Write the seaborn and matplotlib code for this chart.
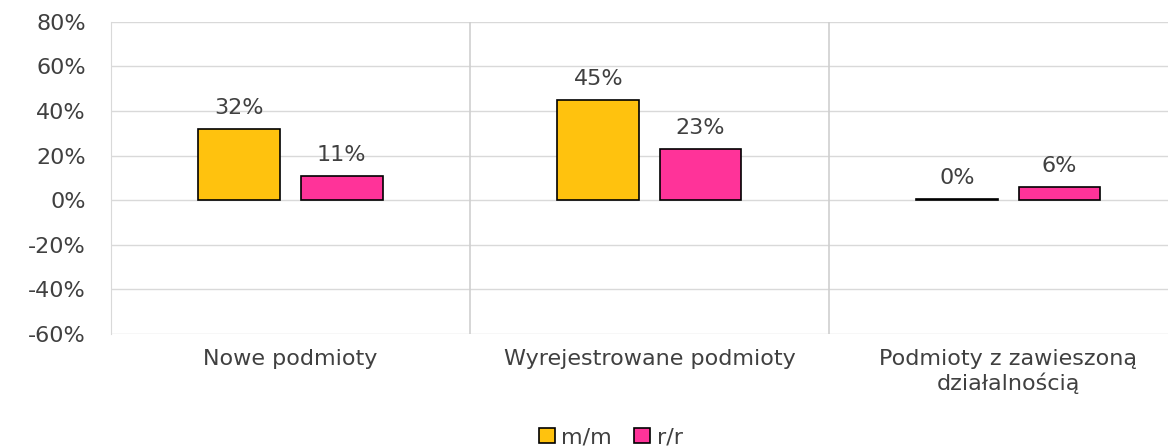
import seaborn as sns
import matplotlib.pyplot as plt
import pandas as pd

# data
categories = ['Nowe podmioty', 'Wyrejestrowane podmioty', 'Podmioty z zawieszoną\ndziałalnością']
mm_values = [32, 45, 0.4]
rr_values = [11, 23, 6]
series = ['m/m', 'r/r']
yticks = [-60, -40, -20, 0, 20, 40, 60, 80]

df = pd.DataFrame({
    'kategoria': categories * 2,
    'wartosc': mm_values + rr_values,
    'seria': [series[0]] * 3 + [series[1]] * 3,
})

sns.set_style('white')
plt.rcParams['font.family'] = ['DejaVu Sans']
text_color = '#404040'

fig = plt.figure(figsize=(11.68, 4.46), dpi=100)
ax = fig.add_axes([0.095, 0.251, 0.922, 0.700])

sns.barplot(data=df, x='kategoria', y='wartosc', hue='seria',
            palette=['#FFC20E', '#FF3399'], saturation=1, width=0.57, gap=0.2,
            edgecolor='black', linewidth=1.2, ax=ax, zorder=3)

# value labels
for cont in ax.containers:
    ax.bar_label(cont, labels=[f'{v:.0f}%' for v in cont.datavalues],
                 padding=8, fontsize=16, color=text_color)

ax.set_ylim(-60, 80)
ax.set_yticks(yticks)
ax.set_yticklabels([f'{t}%' for t in yticks], fontsize=16, color=text_color)
ax.set_xlim(-0.5, 2.5)
ax.tick_params(axis='x', labelsize=16, colors=text_color, pad=11, length=0)
ax.tick_params(axis='y', length=0, pad=18)
ax.set_xlabel('')
ax.set_ylabel('')

# gridlines and category separators
for t in yticks:
    ax.axhline(t, color='#d9d9d9', linewidth=1, zorder=1)
for x in [0.5, 1.5]:
    ax.axvline(x, color='#cfcfcf', linewidth=1.2, zorder=1)

for side in ['top', 'right', 'bottom']:
    ax.spines[side].set_visible(False)
ax.spines['left'].set_color('#d9d9d9')

ax.legend(loc='center', bbox_to_anchor=(0.523, 0.02), bbox_transform=fig.transFigure,
          ncol=2, frameon=False, fontsize=16, handlelength=0.7, handleheight=0.7,
          handletextpad=0.3, columnspacing=1.0, labelcolor=text_color)

fig.savefig('out.png', dpi=100)
